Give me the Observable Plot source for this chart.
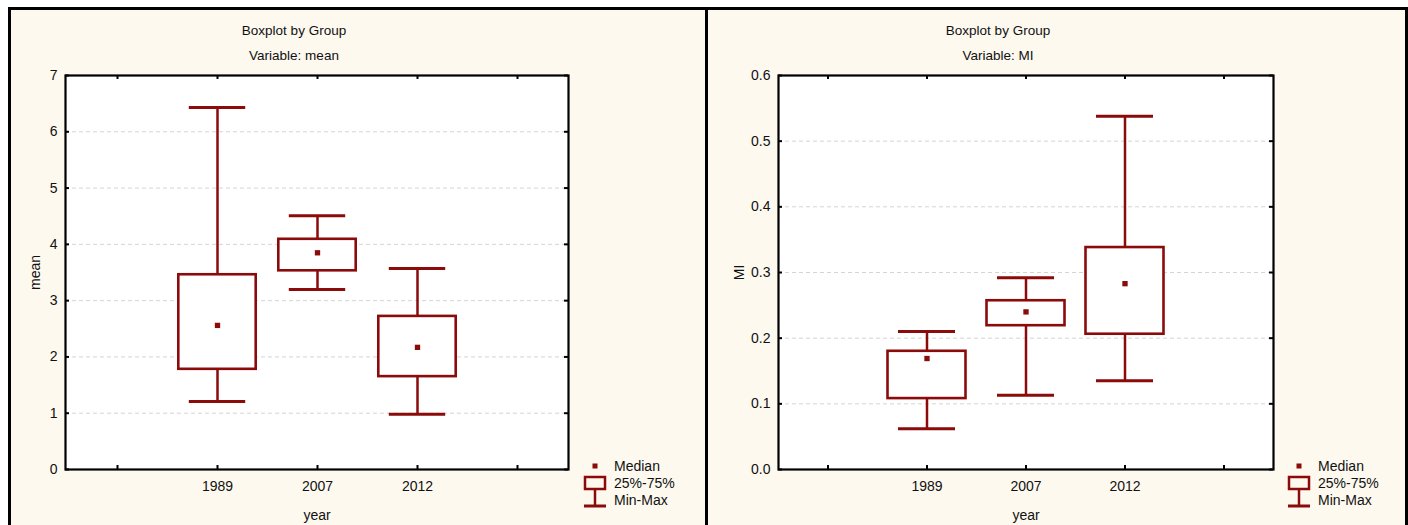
<!DOCTYPE html>
<html>
<head>
<meta charset="utf-8">
<script src="https://cdn.jsdelivr.net/npm/d3@7"></script>
<script src="https://cdn.jsdelivr.net/npm/@observablehq/plot@0.6"></script>
<style>
  html, body { margin: 0; padding: 0; background: #ffffff; }
  #root { position: relative; width: 1408px; height: 525px; overflow: hidden; background: #ffffff;
          font-family: "Liberation Sans", Arial, sans-serif; color: #111; }
  #bg { position: absolute; left: 8px; top: 7px; width: 1400px; height: 540px; box-sizing: border-box;
        border: 3px solid #000; background: #fdf9ef; }
  #divider { position: absolute; left: 705px; top: 7px; width: 3px; height: 540px; background: #000; }
  .panel { position: absolute; top: 0; width: 704px; height: 525px; }
  .title { position: absolute; font-size: 13.5px; white-space: nowrap; transform: translate(-50%, -50%); }
  .legend { position: absolute; font-size: 14px; }
  .legend svg { position: absolute; left: 0; top: 0; overflow: visible; }
  .legend .lt { position: absolute; left: 30px; white-space: nowrap; transform: translateY(-50%); }
</style>
</head>
<body>
<div id="root">
  <div id="bg"></div>
  <div id="divider"></div>
</div>
<script>
// ---- data ----
const years = ["1989", "2007", "2012"];
const slots = ["_l", "1989", "2007", "2012", "_r"];

const meanMin = [1.21, 3.20, 0.98];
const meanQ1  = [1.78, 3.53, 1.65];
const meanMed = [2.56, 3.85, 2.17];
const meanQ3  = [3.46, 4.09, 2.72];
const meanMax = [6.43, 4.51, 3.57];
const meanTicks = [0, 1, 2, 3, 4, 5, 6, 7];

const miMin = [0.062, 0.113, 0.135];
const miQ1  = [0.108, 0.219, 0.206];
const miMed = [0.169, 0.240, 0.283];
const miQ3  = [0.180, 0.257, 0.338];
const miMax = [0.210, 0.292, 0.538];
const miTicks = [0, 0.1, 0.2, 0.3, 0.4, 0.5, 0.6];

const titleText = "Boxplot by Group";
const legendLabels = ["Median", "25%-75%", "Min-Max"];
const RED = "#8b0a0a";

function makePanel(cfg) {
  const W = 704, H = 525, mt = 75, mb = 56;
  const ph = H - mt - mb;
  const pw = W - cfg.marginLeft - cfg.marginRight;
  const data = years.map((y, i) => ({year: y, min: cfg.min[i], q1: cfg.q1[i], med: cfg.med[i], q3: cfg.q3[i], max: cfg.max[i]}));
  const step = pw / slots.length;
  const boxInset = (step - 78) / 2;
  const capInset = (step - 57) / 2;
  return Plot.plot({
    width: W, height: H,
    marginTop: mt, marginBottom: mb, marginLeft: cfg.marginLeft, marginRight: cfg.marginRight,
    style: {background: "transparent", fontFamily: "'Liberation Sans', Arial, sans-serif", fontSize: "14px", color: "#111", overflow: "visible"},
    x: {type: "band", domain: slots, padding: 0},
    y: {domain: cfg.yDomain},
    marks: [
      Plot.frame({fill: "white", stroke: null}),
      Plot.gridY(cfg.ticks, {stroke: "#d4d4d4", strokeOpacity: 1, strokeDasharray: "4,3"}),
      Plot.ruleX(data, {x: "year", y1: "min", y2: "max", stroke: RED, strokeWidth: 2.5}),
      Plot.tickY(data, {x: "year", y: "min", stroke: RED, strokeWidth: 3, insetLeft: capInset, insetRight: capInset}),
      Plot.tickY(data, {x: "year", y: "max", stroke: RED, strokeWidth: 3, insetLeft: capInset, insetRight: capInset}),
      Plot.barY(data, {x: "year", y1: "q1", y2: "q3", fill: "white", stroke: RED, strokeWidth: 2.6, insetLeft: boxInset, insetRight: boxInset}),
      Plot.dot(data, {x: "year", y: "med", symbol: "square", r: 3, fill: RED, stroke: null}),
      Plot.frame({stroke: "#000", strokeWidth: 2.2}),
      // inward ticks
      Plot.ruleX(slots, {x: d => d, insetTop: ph - 4, stroke: "#000", strokeWidth: 2}),
      Plot.ruleX(slots, {x: d => d, insetBottom: ph - 4, stroke: "#000", strokeWidth: 2}),
      Plot.ruleY(cfg.ticks, {y: d => d, insetRight: pw - 4, stroke: "#000", strokeWidth: 2}),
      Plot.ruleY(cfg.ticks, {y: d => d, insetLeft: pw - 4, stroke: "#000", strokeWidth: 2}),
      Plot.axisX({tickSize: 0, tickPadding: 12, tickFormat: d => years.includes(d) ? d : "",
                  label: "year", labelAnchor: "center", labelOffset: 50}),
      Plot.axisY(cfg.ticks, {tickSize: 0, tickPadding: 8, tickFormat: cfg.fmt,
                  label: cfg.yLabel, labelAnchor: "center", labelArrow: "none", labelOffset: cfg.labelOffset})
    ]
  });
}

function addPanel(left, cfg) {
  const root = document.getElementById("root");
  const p = document.createElement("div");
  p.className = "panel";
  p.style.left = left + "px";
  p.appendChild(makePanel(cfg));
  root.appendChild(p);

  const t1 = document.createElement("div");
  t1.className = "title"; t1.textContent = titleText;
  t1.style.left = (left + 294) + "px"; t1.style.top = "30px";
  root.appendChild(t1);
  const t2 = document.createElement("div");
  t2.className = "title"; t2.textContent = "Variable: " + cfg.yLabel;
  t2.style.left = (left + 294) + "px"; t2.style.top = "55px";
  root.appendChild(t2);

  // legend
  const lg = document.createElement("div");
  lg.className = "legend";
  lg.style.left = (left + cfg.legendX) + "px";
  lg.style.top = "0px";
  lg.innerHTML =
    `<svg width="30" height="525">
       <rect x="8.5" y="463.5" width="5" height="5" fill="${RED}"/>
       <rect x="1" y="477" width="20" height="12" fill="none" stroke="${RED}" stroke-width="2.5"/>
       <line x1="11" y1="489" x2="11" y2="506" stroke="${RED}" stroke-width="2.5"/>
       <line x1="0" y1="506" x2="22" y2="506" stroke="${RED}" stroke-width="3"/>
     </svg>` +
    legendLabels.map((s, i) => `<div class="lt" style="top:${466 + i * 17}px">${s}</div>`).join("");
  root.appendChild(lg);
}

addPanel(0, {min: meanMin, q1: meanQ1, med: meanMed, q3: meanQ3, max: meanMax,
  yDomain: [0, 7], ticks: meanTicks, fmt: d3.format("d"), yLabel: "mean",
  marginLeft: 65, marginRight: 136, labelOffset: 35, legendX: 584});
addPanel(704, {min: miMin, q1: miQ1, med: miMed, q3: miQ3, max: miMax,
  yDomain: [0, 0.6], ticks: miTicks, fmt: d3.format(".1f"), yLabel: "MI",
  marginLeft: 74, marginRight: 135, labelOffset: 44, legendX: 584});
</script>
</body>
</html>
